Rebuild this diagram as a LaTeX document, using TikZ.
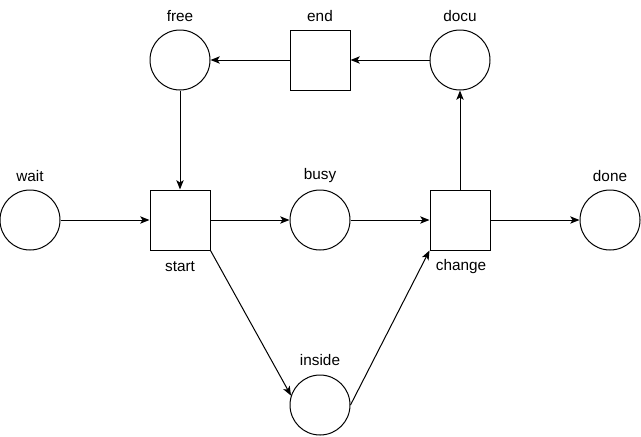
\documentclass[tikz,border=0pt]{standalone}
\usepackage{fontspec}
\setmainfont{Liberation Sans}
\usetikzlibrary{arrows.meta}
\begin{document}
\begin{tikzpicture}[x=0.75pt,y=-0.75pt,
  place/.style={draw,circle,minimum size=45pt,inner sep=0pt,line width=0.75pt},
  trans/.style={draw,rectangle,minimum size=45pt,inner sep=0pt,line width=0.75pt},
  lbl/.style={font=\fontsize{11.5pt}{12pt}\selectfont,inner sep=0pt},
  arc/.style={-{Stealth[length=7pt,width=5.5pt,inset=1.8pt]},line width=0.75pt}]
\useasboundingbox (0,0) rectangle (641,436);
\node[place] (free) at (180,60) {};
\node[trans] (end) at (320,60) {};
\node[place] (docu) at (460,60) {};
\node[place] (wait) at (30,220) {};
\node[trans] (start) at (180,220) {};
\node[place] (busy) at (320,220) {};
\node[trans] (change) at (460,220) {};
\node[place] (done) at (610,220) {};
\node[place] (inside) at (320,405) {};
\node[lbl] (lfree) at (180,16) {free};
\node[lbl] (lend) at (320,16) {end};
\node[lbl] (ldocu) at (460,16) {docu};
\node[lbl] (lwait) at (30,176) {wait};
\node[lbl] (lbusy) at (320,176) {busy};
\node[lbl] (ldone) at (610,176) {done};
\node[lbl] (lstart) at (180,267) {start};
\node[lbl] (lchange) at (461,267) {change};
\node[lbl] (linside) at (320,360) {inside};
\draw[arc] (docu) -- (end);
\draw[arc] (end) -- (free);
\draw[arc] (free) -- (start);
\draw[arc] (wait) -- (start);
\draw[arc] (start) -- (busy);
\draw[arc] (busy) -- (change);
\draw[arc] (change) -- (done);
\draw[arc] (change) -- (docu);
\draw[arc] (start.south east) -- (inside.162);
\draw[arc] (inside.0) -- (change.south west);
\end{tikzpicture}
\end{document}
